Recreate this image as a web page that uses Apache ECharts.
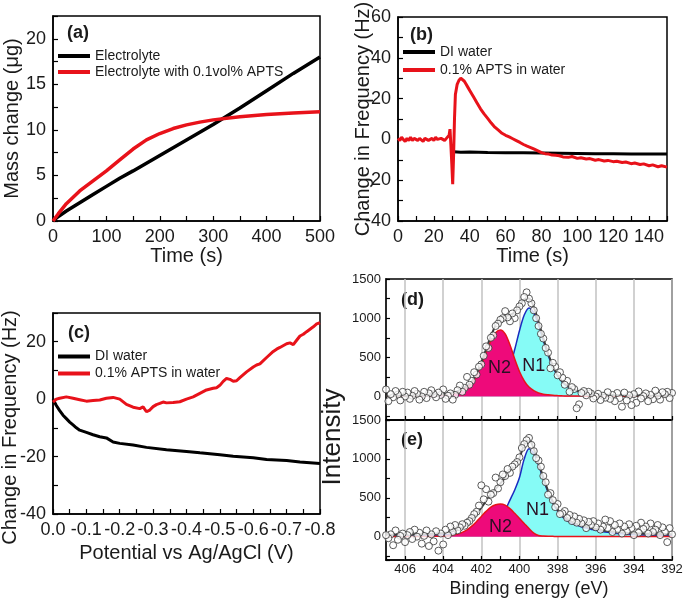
<!DOCTYPE html>
<html><head><meta charset="utf-8">
<script src="https://cdn.jsdelivr.net/npm/echarts@6/dist/echarts.min.js"></script>
<style>html,body{margin:0;padding:0;background:#fff}#c{width:685px;height:604px}</style>
</head><body><div id="c"></div>
<script>
// ---------- Panel (a): mass change vs time ----------
const tA_elec = [0,10,25,50,75,100,125,150,200,250,300,350,400,450,500];
const mA_elec = [0,0.5,1.1,2.0,2.9,3.8,4.7,5.5,7.2,8.9,10.6,12.4,14.3,16.2,18.0];
const tA_apts = [0,10,25,50,75,100,125,150,175,200,225,250,275,300,350,400,450,500];
const mA_apts = [0,0.8,1.9,3.3,4.4,5.5,6.7,7.9,8.9,9.6,10.15,10.55,10.85,11.1,11.45,11.7,11.85,12.0];

// ---------- Panel (b): frequency vs time ----------
const tB_di = [31,32,35,40,50,60,70,80,90,100,110,120,130,140,150];
const fB_di = [-6,-6.2,-6.3,-6.2,-6.4,-6.5,-6.6,-6.7,-6.8,-6.9,-7,-7,-7.1,-7.2,-7.2];
const tB_apts = [0,1,2,3,4,5,6,7,8,9,10,11,12,13,14,15,16,17,18,19,20,21,22,23,24,25,26,27,28,
  28.5,29,29.5,30,30.5,31,31.5,32,33,34,35,36,37,38,39,40,
  42,44,46,48,50,52,54,56,58,60,62,64,66,68,70,72,74,76,78,80,82,84,86,88,90,92,
  95,97,100,102,105,107,110,112,115,117,120,122,125,127,130,132,135,137,140,142,145,147,150];
const fB_apts = [0.5,-0.5,1,0,-1,0.5,-0.5,1,-0.5,0.5,1,-0.5,0.5,0,-1,0.5,1,-0.5,0,0.5,-0.5,1,0,-0.5,0.5,1,-0.5,0.5,0,
  2,5,-3,-12,-22,-8,10,22,27,29,30,29.5,28.5,27,25.5,24,
  21,18,15,12.5,10.3,8,6,4.5,3,2,1.2,0.3,-0.6,-1.5,-2.5,-3.3,-4,-4.8,-5.6,-6.5,-7,-7.2,-7.7,-7.8,-8,-8.6,
  -8.8,-8.4,-9.3,-9,-9.6,-9.4,-10.2,-9.9,-10.6,-10.3,-10.9,-10.7,-11.3,-11.1,-11.9,-11.6,-12.3,-12,-12.9,-12.5,-13.4,-12.9,-13.6];

// ---------- Panel (c): frequency vs potential ----------
const vC_di = [0,-0.01,-0.02,-0.03,-0.04,-0.05,-0.06,-0.07,-0.08,-0.1,-0.12,-0.14,-0.16,-0.18,-0.2,-0.24,-0.28,-0.34,-0.4,-0.44,-0.5,-0.54,-0.6,-0.64,-0.7,-0.74,-0.8];
const fC_di = [0,-2.2,-4,-5.6,-6.8,-8,-9,-10,-10.8,-11.6,-12.4,-13.1,-13.5,-14.9,-15.4,-16,-16.8,-17.6,-18.2,-18.7,-19.4,-19.9,-20.4,-21,-21.4,-21.9,-22.4];
const vC_apts = [0,-0.01,-0.02,-0.04,-0.06,-0.08,-0.1,-0.12,-0.14,-0.16,-0.18,-0.2,-0.22,-0.24,-0.26,-0.27,-0.28,-0.29,-0.3,-0.31,-0.32,-0.33,-0.34,-0.36,-0.38,-0.4,-0.42,-0.44,-0.46,-0.48,-0.49,-0.5,-0.51,-0.52,-0.53,-0.54,-0.55,-0.56,-0.58,-0.6,-0.61,-0.62,-0.64,-0.66,-0.67,-0.68,-0.7,-0.71,-0.72,-0.73,-0.74,-0.75,-0.76,-0.78,-0.79,-0.8];
const fC_apts = [-1,0,0.3,0.8,0.3,-0.2,-0.7,-0.5,-0.3,0.3,0.6,0,-1.8,-2.8,-3.3,-2.7,-4.4,-3.8,-2.6,-1.9,-1.5,-1.0,-1.3,-1.2,-0.9,0,0.8,2,3.2,3.8,4,4.8,6.2,7.2,6.9,6.2,6.4,7.5,9.5,11.2,11.9,12.3,14.5,16.6,17.4,18,19.3,19.6,19,20.5,22,22.6,23.5,25.2,26.2,26.6];

// ---------- Panels (d),(e): XPS N1s ----------
const eFit = [392,392.25,392.5,392.75,393,393.25,393.5,393.75,394,394.25,394.5,394.75,395,395.25,395.5,395.75,396,396.25,396.5,396.75,397,397.25,397.5,397.75,398,398.25,398.5,398.75,399,399.25,399.5,399.75,400,400.25,400.5,400.75,401,401.25,401.5,401.75,402,402.25,402.5,402.75,403,403.25,403.5,403.75,404,404.25,404.5,404.75,405,405.25,405.5,405.75,406,406.25,406.5,406.75,407];
const dN1 = [5,5,6,6,7,7,8,8,9,10,12,13,15,17,20,23,28,34,42,55,70,97,130,182,262,377,530,715,909,1067,1130,1040,840,600,380,230,140,90,60,45,35,28,22,19,16,14,12,11,10,9,8,7,7,6,6,5,5,5,4,4,4];
const dN2 = [2,2,2,2,2,2,2,2,3,3,3,3,3,3,3,3,4,4,4,5,5,6,7,9,12,16,22,30,45,75,120,200,320,480,660,800,850,815,710,560,400,270,170,120,80,55,38,27,20,15,12,10,8,7,6,5,5,4,4,4,3];
const dEnv = [7,7,8,8,9,9,10,10,12,13,15,16,18,20,23,26,32,38,46,60,75,103,137,191,274,393,552,745,954,1142,1250,1240,1160,1080,1040,1030,990,905,770,605,435,298,192,139,96,69,50,38,30,24,20,17,15,13,12,10,10,9,8,8,7];
const eN1 = [15,16,17,18,19,20,22,24,27,30,34,39,45,52,60,70,82,96,110,127,148,172,205,255,330,435,570,740,920,1070,1130,1000,760,600,470,340,250,190,150,120,98,80,66,55,46,39,33,28,24,21,18,16,14,13,12,11,10,9,8,8,7];
const eN2 = [2,2,2,2,2,2,2,2,2,2,2,2,2,2,2,2,2,2,2,2,2,2,3,3,3,4,5,8,15,45,105,170,235,300,360,405,420,410,380,325,260,195,135,88,55,33,20,12,8,6,5,4,3,3,3,3,3,3,3,3,3];
const eEnv = [32,33,34,35,36,37,39,41,44,47,51,56,62,69,77,87,99,113,127,144,165,189,223,273,348,454,590,763,950,1130,1250,1185,1010,915,845,760,685,615,545,460,373,290,216,158,116,87,68,55,47,42,38,35,32,31,30,29,28,27,26,26,25];
const ePts = [392,392.125,392.25,392.375,392.5,392.625,392.75,392.875,
  393,393.125,393.25,393.375,393.5,393.625,393.75,393.875,
  394,394.125,394.25,394.375,394.5,394.625,394.75,394.875,
  395,395.125,395.25,395.375,395.5,395.625,395.75,395.875,
  396,396.125,396.25,396.375,396.5,396.625,396.75,396.875,
  397,397.125,397.25,397.375,397.5,397.625,397.75,397.875,
  398,398.125,398.25,398.375,398.5,398.625,398.75,398.875,
  399,399.125,399.25,399.375,399.5,399.625,399.75,399.875,
  400,400.125,400.25,400.375,400.5,400.625,400.75,400.875,
  401,401.125,401.25,401.375,401.5,401.625,401.75,401.875,
  402,402.125,402.25,402.375,402.5,402.625,402.75,402.875,
  403,403.125,403.25,403.375,403.5,403.625,403.75,403.875,
  404,404.125,404.25,404.375,404.5,404.625,404.75,404.875,
  405,405.125,405.25,405.375,405.5,405.625,405.75,405.875,
  406,406.125,406.25,406.375,406.5,406.625,406.75,406.875,
  407];
const dPts = [45,-20,60,30,55,-40,10,75,
  -35,20,-60,40,5,-25,65,-80,
  30,-110,15,-50,50,-130,-20,45,
  -60,20,-30,55,-15,10,-45,35,
  0,-25,40,60,15,70,45,-100,
  -150,95,120,60,200,150,240,310,
  270,380,430,360,560,620,740,800,
  900,1000,1100,1190,1250,1330,1270,1190,
  1150,1100,1000,1060,960,1010,1090,1000,
  980,930,900,780,750,620,640,520,
  410,380,280,310,200,150,250,110,
  60,140,80,20,-40,40,10,-30,
  90,20,50,-10,30,80,40,-20,
  60,0,-40,35,70,10,-30,50,
  0,60,-50,25,70,-10,30,-60,
  90];
const ePtsV = [30,110,-70,60,120,20,150,90,
  60,170,40,130,100,180,50,140,
  20,110,160,70,130,40,170,90,
  150,60,200,110,220,130,90,170,
  120,200,150,190,110,210,170,230,
  180,260,200,280,240,330,300,290,
  420,380,470,560,540,700,780,900,
  980,1010,1100,1180,1270,1240,1190,1140,
  1020,960,930,900,820,870,780,800,
  700,620,760,560,540,450,610,480,
  660,400,320,290,240,200,180,140,
  160,120,80,150,60,130,20,90,
  -100,40,-180,70,-60,30,-120,80,
  10,-90,50,0,90,-30,60,20,
  -70,40,10,-40,80,-110,30,-20,
  20];

// ---------- styling ----------
const FONT = "'Liberation Sans', Arial, Helvetica, sans-serif";
const TXT = '#1a1a1a';
const RED = '#e8121a';
const PINK = '#ee0a7a';
const CYAN = '#86fbf6';
const BLUE = '#1a2cc0';
const ENV = '#3a3a3a';

function zip(xs, ys) { return xs.map((x, i) => [x, ys[i]]); }
function isMult(v, m) { const r = v / m; return Math.abs(r - Math.round(r)) < 1e-6; }

function grid(left, top, width, height) {
  return { left, top, width, height, show: true, borderColor: '#000', borderWidth: 1.5,
    backgroundColor: 'transparent', containLabel: false, outerBoundsMode: 'none' };
}
function axis(gridIndex, min, max, interval, fmt, extra) {
  const a = {
    type: 'value', gridIndex, min, max, interval,
    axisLine: { show: true, onZero: false, lineStyle: { color: '#000', width: 1.5 } },
    axisTick: { show: true, inside: true, length: 5, lineStyle: { color: '#000', width: 1.2 } },
    splitLine: { show: false },
    axisLabel: { show: true, color: TXT, fontFamily: FONT, fontSize: 18, margin: 7, formatter: fmt,
      showMinLabel: true, showMaxLabel: true },
    nameLocation: 'middle',
    nameMoveOverlap: false,
    nameTextStyle: { color: TXT, fontFamily: FONT, fontSize: 20 }
  };
  return Object.assign(a, extra || {});
}
function gridLineAxis(gridIndex) {
  return { type: 'value', gridIndex, min: 392, max: 407, interval: 2, inverse: true, position: 'bottom',
    axisLine: { show: false, onZero: false }, axisTick: { show: false }, axisLabel: { show: false },
    splitLine: { show: true, lineStyle: { color: '#c2c2c2', width: 1.5 } } };
}
function xpsDispY(gridIndex) {
  return { type: 'value', gridIndex, min: 0, max: 1800, interval: 250, inverse: true, position: 'left',
    axisLine: { show: true, onZero: false, lineStyle: { color: '#000', width: 1.5 } },
    axisTick: { show: true, inside: true, length: 4, lineStyle: { color: '#000', width: 1.2 } },
    splitLine: { show: false },
    axisLabel: { color: TXT, fontFamily: FONT, fontSize: 13, margin: 5, showMinLabel: true, showMaxLabel: true,
      formatter: u => { const v = 1500 - u; return (v >= 0 && isMult(v, 500)) ? String(Math.round(v)) : ''; } } };
}
function xpsDataY(gridIndex) {
  return { type: 'value', gridIndex, min: -300, max: 1500, show: false };
}

const lineS = (name, xi, yi, xs, ys, color, w) => ({
  name, type: 'line', xAxisIndex: xi, yAxisIndex: yi, data: zip(xs, ys), color,
  showSymbol: false, symbol: 'none', lineStyle: { color, width: w }, animation: false
});

function xpsSeries(xi, yi, n1, n2, env, pts, labN2, labN1) {
  const lab = (txt, c) => ({
    symbol: 'circle', symbolSize: 1, itemStyle: { color: 'rgba(0,0,0,0)' },
    label: { show: true, position: 'inside', formatter: txt, fontFamily: FONT, fontSize: 18, color: '#2a1024' },
    data: [{ coord: c }]
  });
  return [
    { type: 'line', xAxisIndex: xi, yAxisIndex: yi, data: zip(eFit, n1), smooth: 0.3, showSymbol: false, symbol: 'none',
      lineStyle: { color: BLUE, width: 1.5 }, areaStyle: { color: CYAN, opacity: 1 }, z: 2,
      markPoint: lab('N1', labN1) },
    { type: 'line', xAxisIndex: xi, yAxisIndex: yi, data: zip(eFit, n2), smooth: 0.3, showSymbol: false, symbol: 'none',
      lineStyle: { color: RED, width: 1.5 }, areaStyle: { color: PINK, opacity: 1 }, z: 3,
      markPoint: lab('N2', labN2) },
    { type: 'line', xAxisIndex: xi, yAxisIndex: yi, data: zip(eFit, env), smooth: 0.3, showSymbol: false, symbol: 'none',
      lineStyle: { color: ENV, width: 2 }, z: 4 },
    { type: 'scatter', xAxisIndex: xi, yAxisIndex: yi, data: zip(ePts, pts), symbol: 'circle', symbolSize: 7,
      itemStyle: { color: '#ffffff', borderColor: '#333', borderWidth: 1 }, z: 5 }
  ];
}

const legendBase = (names, left, top, lh) => ({
  data: names, left, top, orient: 'vertical', icon: 'rect', itemWidth: 32, itemHeight: 4, itemGap: 0,
  padding: 0, selectedMode: false,
  textStyle: { fontFamily: FONT, fontSize: 14, color: TXT, lineHeight: lh }
});

const panelLabel = (txt, x, y) => ({ type: 'text', x, y,
  style: { text: txt, font: "bold 18px 'Liberation Sans', Arial, sans-serif", fill: TXT, verticalAlign: 'middle', align: 'left' } });

const option = {
  animation: false,
  backgroundColor: '#ffffff',
  grid: [
    grid(53, 16, 267, 205),     // a
    grid(398, 17, 269, 204),    // b
    grid(53, 313, 267, 201),    // c
    grid(386, 279, 286, 141),   // d
    grid(386, 420, 286, 140)    // e
  ],
  xAxis: [
    axis(0, 0, 500, 50, v => isMult(v, 100) ? String(v) : '', { name: 'Time (s)', nameGap: 25 }),
    axis(1, 0, 150, 10, v => isMult(v, 20) ? String(v) : '', { name: 'Time (s)', nameGap: 25 }),
    axis(2, -0.8, 0, 0.05, v => isMult(v, 0.1) ? v.toFixed(1) : '', { inverse: true, name: 'Potential vs Ag/AgCl (V)', nameGap: 29 }),
    axis(3, 392, 407, 1, () => '', { inverse: true, position: 'bottom',
      axisTick: { show: true, inside: true, length: 4, lineStyle: { color: '#000', width: 1.2 } } }),
    gridLineAxis(3),
    axis(4, 392, 407, 1, v => (isMult(v, 2) && v < 407) ? String(v) : '', { inverse: true, position: 'bottom',
      axisTick: { show: true, inside: true, length: 4, lineStyle: { color: '#000', width: 1.2 } },
      axisLabel: { color: TXT, fontFamily: FONT, fontSize: 13, margin: 3, showMinLabel: true, showMaxLabel: true,
        formatter: v => (isMult(v, 2) && v < 407) ? String(Math.round(v)) : '' },
      name: 'Binding energy (eV)', nameGap: 20, nameTextStyle: { color: TXT, fontFamily: FONT, fontSize: 18 } }),
    gridLineAxis(4)
  ],
  yAxis: [
    axis(0, 0, 22.5, 2.5, v => isMult(v, 5) ? String(v) : '', { name: 'Mass change (\u03bcg)', nameGap: 31 }),
    axis(1, -40, 60, 10, v => isMult(v, 20) ? String(v) : '', { name: 'Change in Frequency (Hz)', nameGap: 25 }),
    axis(2, -40, 30, 10, v => isMult(v, 20) ? String(v) : '', { name: 'Change in Frequency (Hz)', nameGap: 33,
      nameTextStyle: { color: TXT, fontFamily: FONT, fontSize: 20, padding: [0, 28, 0, 0] } }),
    xpsDataY(3),
    xpsDispY(3),
    xpsDataY(4),
    xpsDispY(4)
  ],
  legend: [
    legendBase(['Electrolyte', 'Electrolyte with 0.1vol% APTS'], 58, 48, 16),
    legendBase(['DI water', '0.1% APTS in water'], 403, 43, 18),
    legendBase(['DI water', '0.1% APTS in water'], 58, 348, 17)
  ],
  graphic: [
    panelLabel('(a)', 67, 33),
    panelLabel('(b)', 410, 35),
    panelLabel('(c)', 68, 333),
    panelLabel('(d)', 401, 300),
    panelLabel('(e)', 401, 440),
    { type: 'text', x: 333, y: 437, rotation: Math.PI / 2,
      style: { text: 'Intensity', font: "26px 'Liberation Sans', Arial, sans-serif", fill: TXT, align: 'center', verticalAlign: 'middle' } }
  ],
  series: [
    lineS('Electrolyte', 0, 0, tA_elec, mA_elec, '#000000', 3.5),
    lineS('Electrolyte with 0.1vol% APTS', 0, 0, tA_apts, mA_apts, RED, 3.5),
    lineS('DI water', 1, 1, tB_di, fB_di, '#000000', 3),
    lineS('0.1% APTS in water', 1, 1, tB_apts, fB_apts, RED, 3),
    lineS('DI water', 2, 2, vC_di, fC_di, '#000000', 3),
    lineS('0.1% APTS in water', 2, 2, vC_apts, fC_apts, RED, 3),
    ...xpsSeries(3, 3, dN1, dN2, dEnv, dPts, [401.05, 360], [399.25, 390]),
    ...xpsSeries(5, 5, eN1, eN2, eEnv, ePtsV, [401.0, 130], [399.05, 340])
  ]
};

const chart = echarts.init(document.getElementById('c'), null, { renderer: 'canvas' });
chart.setOption(option);
</script>
</body></html>
